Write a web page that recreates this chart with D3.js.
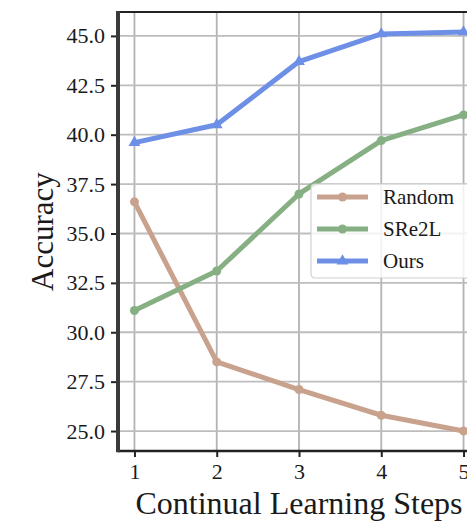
<!DOCTYPE html>
<html>
<head>
<meta charset="utf-8">
<script src="https://cdn.jsdelivr.net/npm/d3@7"></script>
<style>
  html, body { margin: 0; padding: 0; background: #fff; overflow: hidden; }
  svg { display: block; }
  text { font-family: "Liberation Serif", "Times New Roman", serif; fill: #1a1a1a; }
</style>
</head>
<body>
<svg id="chart" width="467" height="523"></svg>
<script>
// Continual learning accuracy per step for each method
const steps = [1, 2, 3, 4, 5];
const randomAcc = [36.6, 28.5, 27.1, 25.8, 25.0];
const sre2lAcc  = [31.1, 33.1, 37.0, 39.7, 41.0];
const oursAcc   = [39.6, 40.5, 43.7, 45.1, 45.2];
const yTickValues = [25.0, 27.5, 30.0, 32.5, 35.0, 37.5, 40.0, 42.5, 45.0];
const seriesNames = ["Random", "SRe2L", "Ours"];
const seriesColors = ["#c9a28d", "#86b083", "#6d8fe6"];
const seriesMarkers = ["circle", "circle", "triangle"];

const series = seriesNames.map((name, i) => ({
  name,
  color: seriesColors[i],
  marker: seriesMarkers[i],
  values: [randomAcc, sre2lAcc, oursAcc][i].map((v, j) => ({ step: steps[j], acc: v }))
}));

const svg = d3.select("#chart");
const margin = { left: 118, top: 12, right: -13, bottom: 72 };
const W = 467, H = 523;

// Axis limits padded by 5% of the data span on each side
const xExt = d3.extent(steps);
const xPad = (xExt[1] - xExt[0]) * 0.05;
const allAcc = randomAcc.concat(sre2lAcc, oursAcc);
const yExt = d3.extent(allAcc);
const yPad = (yExt[1] - yExt[0]) * 0.05;

const x = d3.scaleLinear()
  .domain([xExt[0] - xPad, xExt[1] + xPad])
  .range([margin.left, W - margin.right]);
const y = d3.scaleLinear()
  .domain([yExt[0] - yPad, yExt[1] + yPad])
  .range([H - margin.bottom, margin.top]);

const plotL = x.range()[0], plotR = x.range()[1];
const plotT = y.range()[1], plotB = y.range()[0];

// Grid
const grid = svg.append("g");
grid.selectAll("line.gx").data(steps).join("line")
  .attr("x1", d => x(d)).attr("x2", d => x(d))
  .attr("y1", plotT).attr("y2", plotB)
  .attr("stroke", "#b3b3b3").attr("stroke-width", 1.8);
grid.selectAll("line.gy").data(yTickValues).join("line")
  .attr("x1", plotL).attr("x2", plotR)
  .attr("y1", d => y(d)).attr("y2", d => y(d))
  .attr("stroke", "#bdbdbd").attr("stroke-width", 1.8);

// Lines with markers
const line = d3.line().x(d => x(d.step)).y(d => y(d.acc));
const tri = d3.symbol().type(d3.symbolTriangle).size(60);

function drawMarker(g, type, color, cx, cy) {
  if (type === "circle") {
    g.append("circle").attr("cx", cx).attr("cy", cy).attr("r", 4.5).attr("fill", color);
  } else {
    g.append("path").attr("d", tri()).attr("transform", `translate(${cx},${cy})`).attr("fill", color);
  }
}

const plot = svg.append("g");
series.forEach(s => {
  const g = plot.append("g");
  g.append("path").datum(s.values)
    .attr("d", line).attr("fill", "none")
    .attr("stroke", s.color).attr("stroke-width", 5)
    .attr("stroke-linejoin", "round").attr("stroke-linecap", "round");
  s.values.forEach(d => drawMarker(g, s.marker, s.color, x(d.step), y(d.acc)));
});

// Spines
svg.append("line").attr("x1", plotL).attr("x2", plotR).attr("y1", plotT).attr("y2", plotT)
  .attr("stroke", "#222").attr("stroke-width", 2);
svg.append("line").attr("x1", plotL).attr("x2", plotR).attr("y1", plotB).attr("y2", plotB)
  .attr("stroke", "#222").attr("stroke-width", 2.5);
svg.append("line").attr("x1", plotL).attr("x2", plotL).attr("y1", plotT - 1).attr("y2", plotB + 1.2)
  .attr("stroke", "#3a3a3a").attr("stroke-width", 4);

// Axes
const yAxis = d3.axisLeft(y).tickValues(yTickValues).tickFormat(d3.format(".1f"))
  .tickSize(5).tickPadding(6);
const gy = svg.append("g").attr("transform", `translate(${plotL - 2},0)`).call(yAxis);
gy.select(".domain").remove();
gy.selectAll(".tick line").attr("stroke", "#222").attr("stroke-width", 2);
gy.selectAll(".tick text").attr("font-size", 22).attr("font-family", "Liberation Serif, serif").attr("fill", "#222");

const xAxis = d3.axisBottom(x).tickValues(steps).tickFormat(d3.format("d"))
  .tickSize(5).tickPadding(6);
const gx = svg.append("g").attr("transform", `translate(0,${plotB + 1})`).call(xAxis);
gx.select(".domain").remove();
gx.selectAll(".tick line").attr("stroke", "#222").attr("stroke-width", 2);
gx.selectAll(".tick text").attr("font-size", 22).attr("font-family", "Liberation Serif, serif").attr("fill", "#222");

// Axis titles
svg.append("text")
  .attr("x", (plotL + plotR) / 2).attr("y", 514)
  .attr("text-anchor", "middle").attr("font-size", 32)
  .text("Continual Learning Steps");
svg.append("text")
  .attr("transform", `translate(53,${(plotT + plotB) / 2}) rotate(-90)`)
  .attr("text-anchor", "middle").attr("font-size", 31)
  .text("Accuracy");

// Legend
const legend = svg.append("g").attr("transform", "translate(311,184)");
legend.append("rect")
  .attr("x", 0).attr("y", 0).attr("width", 170).attr("height", 94)
  .attr("rx", 4).attr("fill", "#fff").attr("fill-opacity", 0.82)
  .attr("stroke", "#d0d0d0").attr("stroke-width", 1.2);
series.forEach((s, i) => {
  const cy = 13 + i * 32;
  const row = legend.append("g");
  row.append("line").attr("x1", 6).attr("x2", 57).attr("y1", cy).attr("y2", cy)
    .attr("stroke", s.color).attr("stroke-width", 5);
  drawMarker(row, s.marker, s.color, 31.5, cy);
  row.append("text").attr("x", 72).attr("y", cy + 7)
    .attr("font-size", 21).text(s.name);
});
</script>
</body>
</html>
